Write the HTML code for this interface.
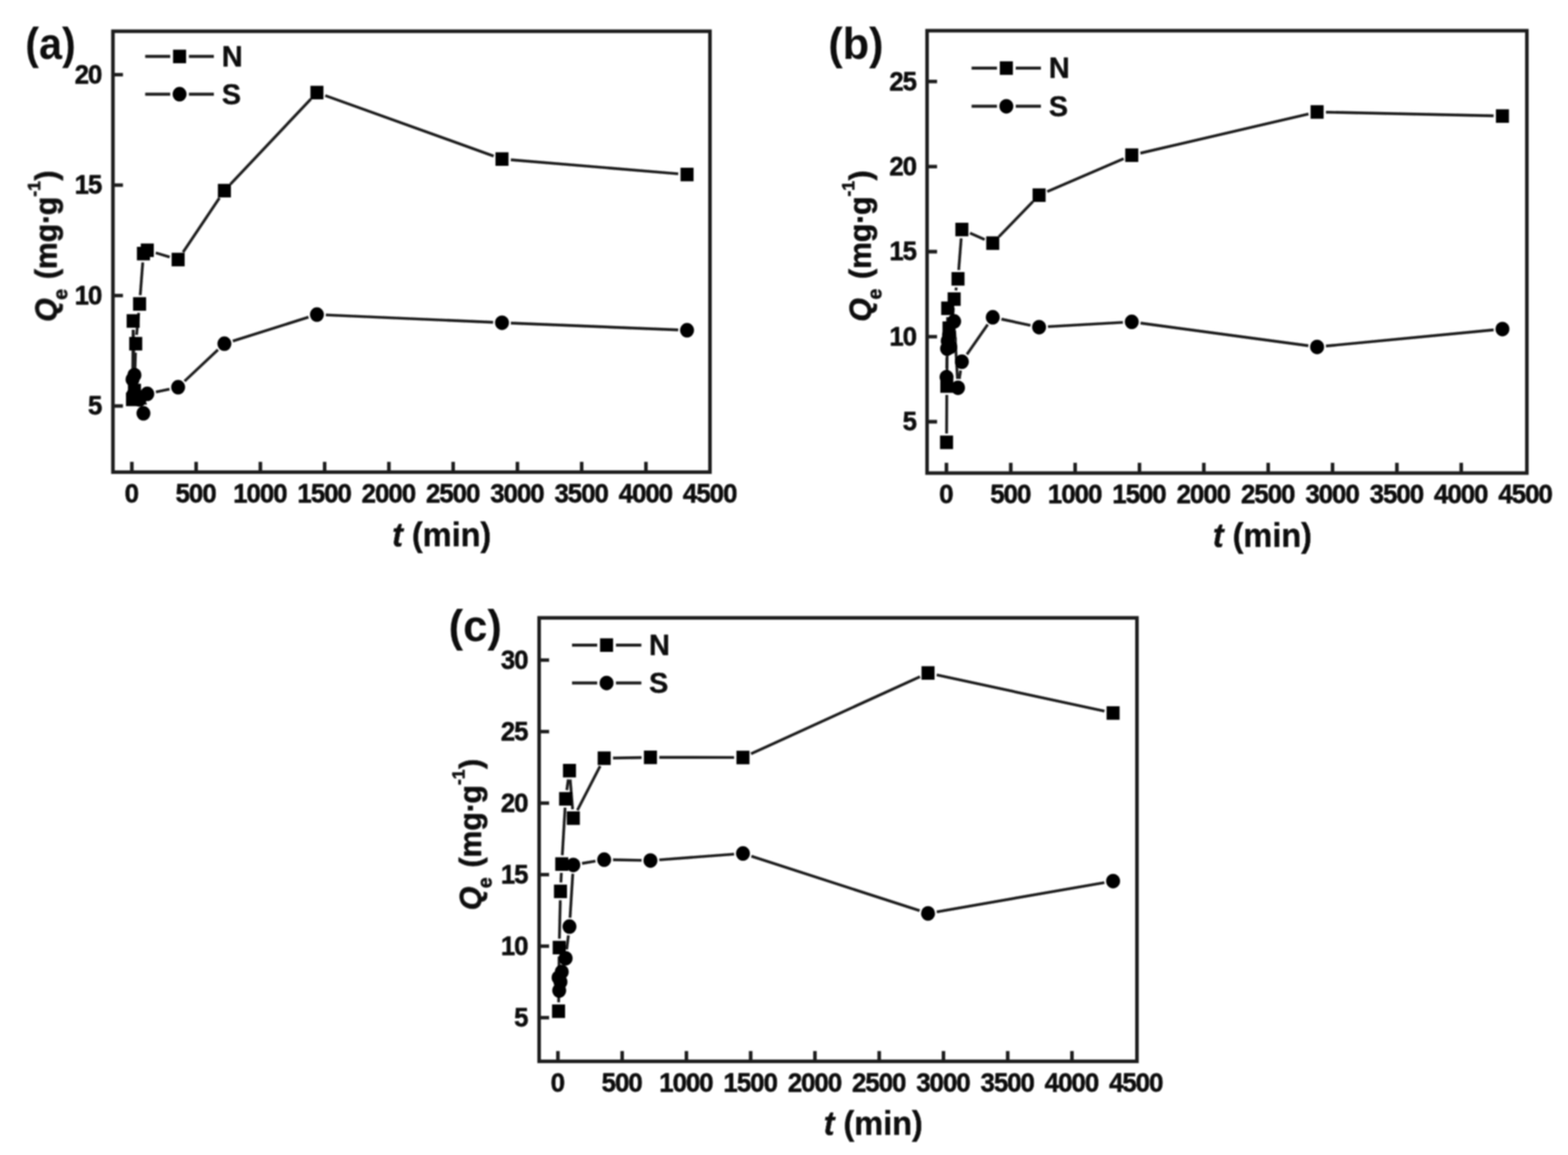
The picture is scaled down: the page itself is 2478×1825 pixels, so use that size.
<!DOCTYPE html>
<html lang="en"><head><meta charset="utf-8"><title>Adsorption kinetics</title>
<style>html,body{margin:0;padding:0;background:#fff;}body{width:2478px;height:1825px;overflow:hidden;}svg{display:block;}text{font-family:'Liberation Sans', Arial, Helvetica, sans-serif;font-weight:700;fill:#0a0a0a;stroke:#0a0a0a;stroke-width:0.5;stroke-linejoin:round;}</style>
</head><body>
<svg xmlns="http://www.w3.org/2000/svg" width="2478" height="1825" viewBox="0 0 2478 1825">
<defs><filter id="bl" x="0" y="0" width="100%" height="100%" filterUnits="userSpaceOnUse"><feGaussianBlur stdDeviation="1"/></filter></defs>
<rect x="0" y="0" width="2478" height="1825" fill="#fff"/>
<g filter="url(#bl)">
<g id="chart-a">
<rect x="178.5" y="49.4" width="943.5" height="696.6" fill="none" stroke="#1c1c1c" stroke-width="5.6"/>
<path d="M208.4 746 V729.7 M309.95 746 V729.7 M411.5 746 V729.7 M513.05 746 V729.7 M614.6 746 V729.7 M716.15 746 V729.7 M817.7 746 V729.7 M919.25 746 V729.7 M1020.8 746 V729.7 M178.5 641.5 H194.3 M178.5 467 H194.3 M178.5 292.5 H194.3 M178.5 118 H194.3" fill="none" stroke="#1c1c1c" stroke-width="5.6"/>
<text transform="translate(207.59 793.5) scale(0.95 1)" font-size="43" text-anchor="middle" style="stroke-width:0.8;letter-spacing:-1.7px">0</text>
<text transform="translate(309.14 793.5) scale(0.95 1)" font-size="43" text-anchor="middle" style="stroke-width:0.8;letter-spacing:-1.7px">500</text>
<text transform="translate(410.69 793.5) scale(0.95 1)" font-size="43" text-anchor="middle" style="stroke-width:0.8;letter-spacing:-1.7px">1000</text>
<text transform="translate(512.24 793.5) scale(0.95 1)" font-size="43" text-anchor="middle" style="stroke-width:0.8;letter-spacing:-1.7px">1500</text>
<text transform="translate(613.79 793.5) scale(0.95 1)" font-size="43" text-anchor="middle" style="stroke-width:0.8;letter-spacing:-1.7px">2000</text>
<text transform="translate(715.34 793.5) scale(0.95 1)" font-size="43" text-anchor="middle" style="stroke-width:0.8;letter-spacing:-1.7px">2500</text>
<text transform="translate(816.89 793.5) scale(0.95 1)" font-size="43" text-anchor="middle" style="stroke-width:0.8;letter-spacing:-1.7px">3000</text>
<text transform="translate(918.44 793.5) scale(0.95 1)" font-size="43" text-anchor="middle" style="stroke-width:0.8;letter-spacing:-1.7px">3500</text>
<text transform="translate(1019.99 793.5) scale(0.95 1)" font-size="43" text-anchor="middle" style="stroke-width:0.8;letter-spacing:-1.7px">4000</text>
<text transform="translate(1121.54 793.5) scale(0.95 1)" font-size="43" text-anchor="middle" style="stroke-width:0.8;letter-spacing:-1.7px">4500</text>
<text transform="translate(160.08 655.2) scale(0.95 1)" font-size="43" text-anchor="end" style="stroke-width:0.8;letter-spacing:-1.7px">5</text>
<text transform="translate(160.08 480.7) scale(0.95 1)" font-size="43" text-anchor="end" style="stroke-width:0.8;letter-spacing:-1.7px">10</text>
<text transform="translate(160.08 306.2) scale(0.95 1)" font-size="43" text-anchor="end" style="stroke-width:0.8;letter-spacing:-1.7px">15</text>
<text transform="translate(160.08 131.7) scale(0.95 1)" font-size="43" text-anchor="end" style="stroke-width:0.8;letter-spacing:-1.7px">20</text>
<text transform="translate(698 862.5) scale(0.95 1)" font-size="54" text-anchor="middle"><tspan font-style="italic">t</tspan> (min)</text>
<text transform="translate(89.3 508.5) rotate(-90) scale(0.982 1)" font-size="48.5" style="stroke-width:0.9"><tspan font-style="italic">Q</tspan><tspan font-size="31.53" dx="-2.2" dy="16.97">e</tspan><tspan dx="2.2" dy="-16.97"> (mg</tspan><tspan dx="0">·</tspan><tspan dx="-2">g</tspan><tspan font-size="28.13" dx="0" dy="-25.71">-</tspan><tspan font-size="28.13" dx="0">1</tspan><tspan dx="1" dy="25.71">)</tspan></text>
<text transform="translate(40 92.5) scale(0.935 1)" font-size="69.7" style="stroke-width:0">(a)</text>
<path d="M229.5 89.2 H269 M298.6 89.2 H338" stroke="#1c1c1c" stroke-width="4.8" fill="none"/>
<path d="M229.5 148.8 H269 M298.6 148.8 H338" stroke="#1c1c1c" stroke-width="4.8" fill="none"/>
<rect x="273.5" y="78.5" width="20.6" height="21.4" fill="#030303"/>
<ellipse cx="283.8" cy="148.8" rx="11" ry="11.5" fill="#030303"/>
<text transform="translate(350.6 104.5) scale(0.97 1)" font-size="47">N</text>
<text transform="translate(350.6 165.4) scale(0.97 1)" font-size="47">S</text>
<path d="M209.53 617.03L210.32 521.13 M210.69 521.13L212.2 603.07 M212.85 603.08L214.11 557.08 M215.84 529.15L219.23 494.2 M221.65 466.3L225.61 414.65 M246.18 399.49L268.11 406.08 M289.32 398.49L346.83 312.85 M364.24 291.04L491.26 156.45 M514.04 151L780.15 246.59 M807.28 252.48L1071.84 274.58" fill="none" stroke="#1c1c1c" stroke-width="4.4"/>
<rect x="199.12" y="620.33" width="20.6" height="21.4" fill="#030303"/>
<rect x="200.13" y="496.44" width="20.6" height="21.4" fill="#030303"/>
<rect x="202.16" y="606.37" width="20.6" height="21.4" fill="#030303"/>
<rect x="204.19" y="532.38" width="20.6" height="21.4" fill="#030303"/>
<rect x="210.29" y="469.56" width="20.6" height="21.4" fill="#030303"/>
<rect x="216.38" y="389.99" width="20.6" height="21.4" fill="#030303"/>
<rect x="222.47" y="384.75" width="20.6" height="21.4" fill="#030303"/>
<rect x="271.22" y="399.41" width="20.6" height="21.4" fill="#030303"/>
<rect x="344.33" y="290.53" width="20.6" height="21.4" fill="#030303"/>
<rect x="490.56" y="135.57" width="20.6" height="21.4" fill="#030303"/>
<rect x="783.03" y="240.62" width="20.6" height="21.4" fill="#030303"/>
<rect x="1075.49" y="265.05" width="20.6" height="21.4" fill="#030303"/>
<path d="M211.33 610.08L211.56 606.61 M213.37 606.61L213.59 610.08 M229.4 639.28L230.05 636.04 M246.46 619.36L267.83 614.78 M291.72 602.24L344.43 552.67 M367.99 538.88L487.51 501.22 M514.85 497.63L779.34 509.31 M807.32 510.49L1071.8 521.23" fill="none" stroke="#1c1c1c" stroke-width="4.4"/>
<ellipse cx="209.42" cy="599.62" rx="11" ry="11.5" fill="#030303"/>
<ellipse cx="210.43" cy="624.05" rx="11" ry="11.5" fill="#030303"/>
<ellipse cx="212.46" cy="592.64" rx="11" ry="11.5" fill="#030303"/>
<ellipse cx="214.49" cy="624.05" rx="11" ry="11.5" fill="#030303"/>
<ellipse cx="220.59" cy="631.03" rx="11" ry="11.5" fill="#030303"/>
<ellipse cx="226.68" cy="653.02" rx="11" ry="11.5" fill="#030303"/>
<ellipse cx="232.77" cy="622.31" rx="11" ry="11.5" fill="#030303"/>
<ellipse cx="281.52" cy="611.84" rx="11" ry="11.5" fill="#030303"/>
<ellipse cx="354.63" cy="543.08" rx="11" ry="11.5" fill="#030303"/>
<ellipse cx="500.86" cy="497.01" rx="11" ry="11.5" fill="#030303"/>
<ellipse cx="793.33" cy="509.93" rx="11" ry="11.5" fill="#030303"/>
<ellipse cx="1085.79" cy="521.79" rx="11" ry="11.5" fill="#030303"/>
</g>
<g id="chart-b">
<rect x="1465.1" y="48.5" width="947.9" height="699" fill="none" stroke="#1c1c1c" stroke-width="5.6"/>
<path d="M1495.7 747.5 V731.2 M1597.4 747.5 V731.2 M1699.1 747.5 V731.2 M1800.8 747.5 V731.2 M1902.5 747.5 V731.2 M2004.2 747.5 V731.2 M2105.9 747.5 V731.2 M2207.6 747.5 V731.2 M2309.3 747.5 V731.2 M1465.1 666.4 H1480.9 M1465.1 532 H1480.9 M1465.1 397.6 H1480.9 M1465.1 263.2 H1480.9 M1465.1 128.8 H1480.9" fill="none" stroke="#1c1c1c" stroke-width="5.6"/>
<text transform="translate(1494.89 794.5) scale(0.95 1)" font-size="43" text-anchor="middle" style="stroke-width:0.8;letter-spacing:-1.7px">0</text>
<text transform="translate(1596.59 794.5) scale(0.95 1)" font-size="43" text-anchor="middle" style="stroke-width:0.8;letter-spacing:-1.7px">500</text>
<text transform="translate(1698.29 794.5) scale(0.95 1)" font-size="43" text-anchor="middle" style="stroke-width:0.8;letter-spacing:-1.7px">1000</text>
<text transform="translate(1799.99 794.5) scale(0.95 1)" font-size="43" text-anchor="middle" style="stroke-width:0.8;letter-spacing:-1.7px">1500</text>
<text transform="translate(1901.69 794.5) scale(0.95 1)" font-size="43" text-anchor="middle" style="stroke-width:0.8;letter-spacing:-1.7px">2000</text>
<text transform="translate(2003.39 794.5) scale(0.95 1)" font-size="43" text-anchor="middle" style="stroke-width:0.8;letter-spacing:-1.7px">2500</text>
<text transform="translate(2105.09 794.5) scale(0.95 1)" font-size="43" text-anchor="middle" style="stroke-width:0.8;letter-spacing:-1.7px">3000</text>
<text transform="translate(2206.79 794.5) scale(0.95 1)" font-size="43" text-anchor="middle" style="stroke-width:0.8;letter-spacing:-1.7px">3500</text>
<text transform="translate(2308.49 794.5) scale(0.95 1)" font-size="43" text-anchor="middle" style="stroke-width:0.8;letter-spacing:-1.7px">4000</text>
<text transform="translate(2410.19 794.5) scale(0.95 1)" font-size="43" text-anchor="middle" style="stroke-width:0.8;letter-spacing:-1.7px">4500</text>
<text transform="translate(1447.68 680.1) scale(0.95 1)" font-size="43" text-anchor="end" style="stroke-width:0.8;letter-spacing:-1.7px">5</text>
<text transform="translate(1447.68 545.7) scale(0.95 1)" font-size="43" text-anchor="end" style="stroke-width:0.8;letter-spacing:-1.7px">10</text>
<text transform="translate(1447.68 411.3) scale(0.95 1)" font-size="43" text-anchor="end" style="stroke-width:0.8;letter-spacing:-1.7px">15</text>
<text transform="translate(1447.68 276.9) scale(0.95 1)" font-size="43" text-anchor="end" style="stroke-width:0.8;letter-spacing:-1.7px">20</text>
<text transform="translate(1447.68 142.5) scale(0.95 1)" font-size="43" text-anchor="end" style="stroke-width:0.8;letter-spacing:-1.7px">25</text>
<text transform="translate(1995 863.5) scale(0.95 1)" font-size="54" text-anchor="middle"><tspan font-style="italic">t</tspan> (min)</text>
<text transform="translate(1375.7 508.2) rotate(-90) scale(0.982 1)" font-size="48.5" style="stroke-width:0.9"><tspan font-style="italic">Q</tspan><tspan font-size="31.53" dx="-2.2" dy="16.97">e</tspan><tspan dx="2.2" dy="-16.97"> (mg</tspan><tspan dx="0">·</tspan><tspan dx="-2">g</tspan><tspan font-size="28.13" dx="0" dy="-25.71">-</tspan><tspan font-size="28.13" dx="0">1</tspan><tspan dx="1" dy="25.71">)</tspan></text>
<text transform="translate(1309 92.7) scale(0.982 1)" font-size="69.7" style="stroke-width:0">(b)</text>
<path d="M1535.5 107.6 H1575.6 M1605.2 107.6 H1645" stroke="#1c1c1c" stroke-width="4.8" fill="none"/>
<path d="M1535.5 167.9 H1575.6 M1605.2 167.9 H1645" stroke="#1c1c1c" stroke-width="4.8" fill="none"/>
<rect x="1580.1" y="96.9" width="20.6" height="21.4" fill="#030303"/>
<ellipse cx="1590.4" cy="167.9" rx="11" ry="11.5" fill="#030303"/>
<text transform="translate(1657.6 123) scale(0.97 1)" font-size="47">N</text>
<text transform="translate(1657.6 184) scale(0.97 1)" font-size="47">S</text>
<path d="M1495.97 684.92L1496.25 623.95 M1496.47 595.95L1497.57 501.11 M1498.64 501.08L1498.86 504.59 M1502.99 530.15L1506.71 486.54 M1510.53 458.84L1511.38 454.36 M1515.1 426.65L1519.02 376.61 M1532.92 368.3L1556.11 378.52 M1578.65 374.09L1632.42 318.43 M1655 302.81L1775.74 250.74 M1802.23 242.01L2067.86 180.09 M2095.49 177.22L2360.39 183.06" fill="none" stroke="#1c1c1c" stroke-width="4.4"/>
<rect x="1485.6" y="688.22" width="20.6" height="21.4" fill="#030303"/>
<rect x="1486.01" y="599.25" width="20.6" height="21.4" fill="#030303"/>
<rect x="1487.43" y="476.41" width="20.6" height="21.4" fill="#030303"/>
<rect x="1489.47" y="507.86" width="20.6" height="21.4" fill="#030303"/>
<rect x="1491.5" y="533.4" width="20.6" height="21.4" fill="#030303"/>
<rect x="1497.6" y="461.9" width="20.6" height="21.4" fill="#030303"/>
<rect x="1503.71" y="429.91" width="20.6" height="21.4" fill="#030303"/>
<rect x="1509.81" y="351.96" width="20.6" height="21.4" fill="#030303"/>
<rect x="1558.62" y="373.46" width="20.6" height="21.4" fill="#030303"/>
<rect x="1631.85" y="297.66" width="20.6" height="21.4" fill="#030303"/>
<rect x="1778.3" y="234.49" width="20.6" height="21.4" fill="#030303"/>
<rect x="2071.19" y="166.22" width="20.6" height="21.4" fill="#030303"/>
<rect x="2364.09" y="172.67" width="20.6" height="21.4" fill="#030303"/>
<path d="M1496.16 581.98L1496.46 564.81 M1503.9 534.29L1505.81 521.65 M1508.72 521.78L1513.19 598.66 M1516.06 598.79L1518.05 585.36 M1528.1 560.02L1560.93 512.85 M1582.62 504.27L1628.45 514.03 M1656.13 516.15L1774.62 509.41 M1802.47 510.49L2067.62 546.26 M2095.43 546.79L2360.45 521.25" fill="none" stroke="#1c1c1c" stroke-width="4.4"/>
<ellipse cx="1495.9" cy="595.97" rx="11" ry="11.5" fill="#030303"/>
<ellipse cx="1496.72" cy="550.82" rx="11" ry="11.5" fill="#030303"/>
<ellipse cx="1497.73" cy="538.72" rx="11" ry="11.5" fill="#030303"/>
<ellipse cx="1499.77" cy="529.31" rx="11" ry="11.5" fill="#030303"/>
<ellipse cx="1501.8" cy="548.13" rx="11" ry="11.5" fill="#030303"/>
<ellipse cx="1507.9" cy="507.81" rx="11" ry="11.5" fill="#030303"/>
<ellipse cx="1514.01" cy="612.64" rx="11" ry="11.5" fill="#030303"/>
<ellipse cx="1520.11" cy="571.51" rx="11" ry="11.5" fill="#030303"/>
<ellipse cx="1568.92" cy="501.36" rx="11" ry="11.5" fill="#030303"/>
<ellipse cx="1642.15" cy="516.95" rx="11" ry="11.5" fill="#030303"/>
<ellipse cx="1788.6" cy="508.61" rx="11" ry="11.5" fill="#030303"/>
<ellipse cx="2081.49" cy="548.13" rx="11" ry="11.5" fill="#030303"/>
<ellipse cx="2374.39" cy="519.9" rx="11" ry="11.5" fill="#030303"/>
</g>
<g id="chart-c">
<rect x="852" y="976.3" width="944.8" height="700.7" fill="none" stroke="#1c1c1c" stroke-width="5.6"/>
<path d="M881.7 1677 V1660.7 M983.25 1677 V1660.7 M1084.8 1677 V1660.7 M1186.35 1677 V1660.7 M1287.9 1677 V1660.7 M1389.45 1677 V1660.7 M1491 1677 V1660.7 M1592.55 1677 V1660.7 M1694.1 1677 V1660.7 M852 1608 H867.8 M852 1495 H867.8 M852 1382 H867.8 M852 1269 H867.8 M852 1156 H867.8 M852 1043 H867.8" fill="none" stroke="#1c1c1c" stroke-width="5.6"/>
<text transform="translate(880.89 1724.5) scale(0.95 1)" font-size="43" text-anchor="middle" style="stroke-width:0.8;letter-spacing:-1.7px">0</text>
<text transform="translate(982.44 1724.5) scale(0.95 1)" font-size="43" text-anchor="middle" style="stroke-width:0.8;letter-spacing:-1.7px">500</text>
<text transform="translate(1083.99 1724.5) scale(0.95 1)" font-size="43" text-anchor="middle" style="stroke-width:0.8;letter-spacing:-1.7px">1000</text>
<text transform="translate(1185.54 1724.5) scale(0.95 1)" font-size="43" text-anchor="middle" style="stroke-width:0.8;letter-spacing:-1.7px">1500</text>
<text transform="translate(1287.09 1724.5) scale(0.95 1)" font-size="43" text-anchor="middle" style="stroke-width:0.8;letter-spacing:-1.7px">2000</text>
<text transform="translate(1388.64 1724.5) scale(0.95 1)" font-size="43" text-anchor="middle" style="stroke-width:0.8;letter-spacing:-1.7px">2500</text>
<text transform="translate(1490.19 1724.5) scale(0.95 1)" font-size="43" text-anchor="middle" style="stroke-width:0.8;letter-spacing:-1.7px">3000</text>
<text transform="translate(1591.74 1724.5) scale(0.95 1)" font-size="43" text-anchor="middle" style="stroke-width:0.8;letter-spacing:-1.7px">3500</text>
<text transform="translate(1693.29 1724.5) scale(0.95 1)" font-size="43" text-anchor="middle" style="stroke-width:0.8;letter-spacing:-1.7px">4000</text>
<text transform="translate(1794.84 1724.5) scale(0.95 1)" font-size="43" text-anchor="middle" style="stroke-width:0.8;letter-spacing:-1.7px">4500</text>
<text transform="translate(833.68 1621.7) scale(0.95 1)" font-size="43" text-anchor="end" style="stroke-width:0.8;letter-spacing:-1.7px">5</text>
<text transform="translate(833.68 1508.7) scale(0.95 1)" font-size="43" text-anchor="end" style="stroke-width:0.8;letter-spacing:-1.7px">10</text>
<text transform="translate(833.68 1395.7) scale(0.95 1)" font-size="43" text-anchor="end" style="stroke-width:0.8;letter-spacing:-1.7px">15</text>
<text transform="translate(833.68 1282.7) scale(0.95 1)" font-size="43" text-anchor="end" style="stroke-width:0.8;letter-spacing:-1.7px">20</text>
<text transform="translate(833.68 1169.7) scale(0.95 1)" font-size="43" text-anchor="end" style="stroke-width:0.8;letter-spacing:-1.7px">25</text>
<text transform="translate(833.68 1056.7) scale(0.95 1)" font-size="43" text-anchor="end" style="stroke-width:0.8;letter-spacing:-1.7px">30</text>
<text transform="translate(1380 1793) scale(0.95 1)" font-size="54" text-anchor="middle"><tspan font-style="italic">t</tspan> (min)</text>
<text transform="translate(760 1438.2) rotate(-90) scale(0.982 1)" font-size="48.5" style="stroke-width:0.9"><tspan font-style="italic">Q</tspan><tspan font-size="31.53" dx="-2.2" dy="16.97">e</tspan><tspan dx="2.2" dy="-16.97"> (mg</tspan><tspan dx="0">·</tspan><tspan dx="-2">g</tspan><tspan font-size="28.13" dx="0" dy="-25.71">-</tspan><tspan font-size="28.13" dx="0">1</tspan><tspan dx="1" dy="25.71">)</tspan></text>
<text transform="translate(709 1013) scale(0.987 1)" font-size="69.7" style="stroke-width:0">(c)</text>
<path d="M904 1019.3 H943.8 M973.4 1019.3 H1013.5" stroke="#1c1c1c" stroke-width="4.8" fill="none"/>
<path d="M904 1079.2 H943.8 M973.4 1079.2 H1013.5" stroke="#1c1c1c" stroke-width="4.8" fill="none"/>
<rect x="948.3" y="1008.6" width="20.6" height="21.4" fill="#030303"/>
<ellipse cx="958.6" cy="1079.2" rx="11" ry="11.5" fill="#030303"/>
<text transform="translate(1025.8 1034.8) scale(0.97 1)" font-size="47">N</text>
<text transform="translate(1025.8 1095.4) scale(0.97 1)" font-size="47">S</text>
<path d="M882.86 1583.83L883.59 1511.26 M884.05 1483.26L885.44 1422.44 M886.42 1394.46L887.14 1379.26 M888.62 1351.3L893.06 1276.2 M895.78 1248.35L898.08 1231.57 M901.11 1231.65L904.94 1278.78 M912.48 1280.28L948.41 1210.48 M968.81 1197.78L1013.93 1196.94 M1041.93 1196.7L1160.16 1196.88 M1186.9 1191.09L1453.89 1069.16 M1480.31 1066.3L1745.41 1123.66" fill="none" stroke="#1c1c1c" stroke-width="4.4"/>
<rect x="872.42" y="1587.13" width="20.6" height="21.4" fill="#030303"/>
<rect x="873.43" y="1486.56" width="20.6" height="21.4" fill="#030303"/>
<rect x="875.46" y="1397.74" width="20.6" height="21.4" fill="#030303"/>
<rect x="877.49" y="1354.58" width="20.6" height="21.4" fill="#030303"/>
<rect x="883.59" y="1251.52" width="20.6" height="21.4" fill="#030303"/>
<rect x="889.68" y="1207" width="20.6" height="21.4" fill="#030303"/>
<rect x="895.77" y="1282.03" width="20.6" height="21.4" fill="#030303"/>
<rect x="944.52" y="1187.34" width="20.6" height="21.4" fill="#030303"/>
<rect x="1017.63" y="1185.98" width="20.6" height="21.4" fill="#030303"/>
<rect x="1163.86" y="1186.21" width="20.6" height="21.4" fill="#030303"/>
<rect x="1456.33" y="1052.64" width="20.6" height="21.4" fill="#030303"/>
<rect x="1748.79" y="1115.92" width="20.6" height="21.4" fill="#030303"/>
<path d="M895.57 1500.31L898.29 1477.94 M900.85 1450.07L905.2 1380.6 M919.87 1364.26L941.02 1360.64 M968.81 1358.53L1013.93 1359.37 M1041.89 1358.57L1160.2 1349.61 M1187.48 1352.86L1453.31 1438.93 M1480.42 1440.84L1745.3 1394.58" fill="none" stroke="#1c1c1c" stroke-width="4.4"/>
<ellipse cx="882.72" cy="1544.72" rx="11" ry="11.5" fill="#030303"/>
<ellipse cx="883.73" cy="1565.06" rx="11" ry="11.5" fill="#030303"/>
<ellipse cx="885.76" cy="1551.5" rx="11" ry="11.5" fill="#030303"/>
<ellipse cx="887.79" cy="1535.68" rx="11" ry="11.5" fill="#030303"/>
<ellipse cx="893.89" cy="1514.21" rx="11" ry="11.5" fill="#030303"/>
<ellipse cx="899.98" cy="1464.04" rx="11" ry="11.5" fill="#030303"/>
<ellipse cx="906.07" cy="1366.63" rx="11" ry="11.5" fill="#030303"/>
<ellipse cx="954.82" cy="1358.27" rx="11" ry="11.5" fill="#030303"/>
<ellipse cx="1027.93" cy="1359.63" rx="11" ry="11.5" fill="#030303"/>
<ellipse cx="1174.16" cy="1348.55" rx="11" ry="11.5" fill="#030303"/>
<ellipse cx="1466.63" cy="1443.25" rx="11" ry="11.5" fill="#030303"/>
<ellipse cx="1759.09" cy="1392.17" rx="11" ry="11.5" fill="#030303"/>
</g>
</g>
</svg>
</body></html>
